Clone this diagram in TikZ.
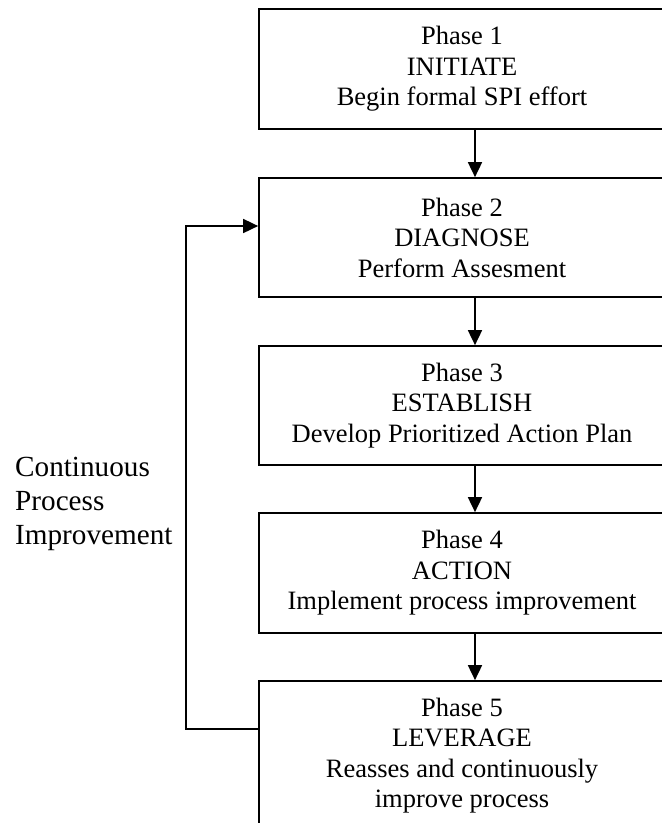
\documentclass[tikz,border=0pt]{standalone}
\usepackage{fontspec}
\setmainfont{Liberation Serif}
\usetikzlibrary{arrows.meta}
\begin{document}
\begin{tikzpicture}[x=1pt,y=-1pt,
  phasebox/.style={draw, line width=1.7pt, minimum width=406pt, inner sep=0pt, align=center, font=\fontsize{26.5}{30.5}\selectfont},
  sidelabel/.style={inner sep=0pt, align=left, font=\fontsize{29.2}{34}\selectfont},
  arr/.style={line width=1.7pt, -{Triangle[length=15pt,width=14pt]}}]
\useasboundingbox (0,0) rectangle (662,823);
\clip (0,0) rectangle (662,823);
\node[phasebox, minimum height=120pt] (b1) at (462,69) {Phase 1\\INITIATE\\Begin formal SPI effort};
\node[phasebox, minimum height=119pt] (b2) at (462,237.5) {Phase 2\\DIAGNOSE\\Perform Assesment};
\node[phasebox, minimum height=119pt] (b3) at (462,405.5) {Phase 3\\ESTABLISH\\Develop Prioritized Action Plan};
\node[phasebox, minimum height=120pt] (b4) at (462,573) {Phase 4\\ACTION\\Implement process improvement};
\node[phasebox, minimum height=149pt] (b5) at (462,755.5) {Phase 5\\LEVERAGE\\Reasses and continuously\\improve process};
\node[sidelabel, anchor=north west] (lbl) at (15,457) {Continuous\\Process\\Improvement};
\coordinate (ax) at (475,0);
\draw[arr] (b1.south -| ax) -- (b2.north -| ax);
\draw[arr] (b2.south -| ax) -- (b3.north -| ax);
\draw[arr] (b3.south -| ax) -- (b4.north -| ax);
\draw[arr] (b4.south -| ax) -- (b5.north -| ax);
\draw[arr] ([yshift=26.5pt]b5.west) -| ([xshift=-72pt,yshift=11.5pt]b2.west) -- ([yshift=11.5pt]b2.west);
\end{tikzpicture}
\end{document}
